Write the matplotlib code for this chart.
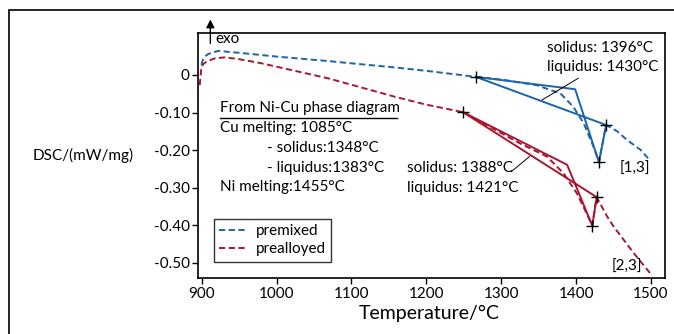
import matplotlib
matplotlib.use("Agg")
import matplotlib.pyplot as plt
from matplotlib.patches import Rectangle

plt.rcParams['font.family'] = ['Lato', 'DejaVu Sans']

# ---- data ----
premixed_x = [899.6, 901, 904, 908, 913, 922, 950, 980, 1000, 1069, 1100, 1158, 1200, 1266,
              1303, 1347, 1379, 1396, 1410, 1423, 1430.5, 1440, 1455, 1468, 1486, 1498]
premixed_y = [0.027, 0.038, 0.049, 0.055, 0.059, 0.064, 0.059, 0.053, 0.049, 0.037, 0.031, 0.020, 0.011, -0.005,
              -0.013, -0.027, -0.049, -0.084, -0.128, -0.190, -0.232, -0.133, -0.150, -0.173, -0.199, -0.226]

prealloyed_x = [897.3, 899.6, 902, 906, 917, 931, 950, 980, 1000, 1069, 1100, 1158, 1200, 1249,
                1325, 1361, 1383, 1401, 1414, 1421.6, 1427.4, 1441, 1450, 1477, 1499]
prealloyed_y = [-0.027, 0.022, 0.029, 0.035, 0.044, 0.047, 0.042, 0.031, 0.022, -0.009, -0.026, -0.058, -0.079, -0.099,
                -0.182, -0.217, -0.261, -0.315, -0.368, -0.401, -0.325, -0.375, -0.403, -0.474, -0.528]

premixed_tan_x = [1266, 1398.7, 1430.5, 1440, 1266]
premixed_tan_y = [-0.005, -0.038, -0.232, -0.133, -0.005]
premixed_marks_x = [1266, 1430.5, 1440]
premixed_marks_y = [-0.005, -0.232, -0.133]

prealloyed_tan_x = [1249, 1388, 1421.6, 1427.4, 1249]
prealloyed_tan_y = [-0.099, -0.239, -0.401, -0.325, -0.099]
prealloyed_marks_x = [1249, 1421.6, 1427.4]
prealloyed_marks_y = [-0.099, -0.401, -0.325]

x_ticks = [900, 1000, 1100, 1200, 1300, 1400, 1500]
y_ticks = [0, -0.10, -0.20, -0.30, -0.40, -0.50]
y_ticklabels = ['0', '-0.10', '-0.20', '-0.30', '-0.40', '-0.50']

series_names = ['premixed', 'prealloyed']

BLUE = '#1a64a8'
RED = '#a8172f'

fig = plt.figure(figsize=(6.74, 3.34), dpi=100)
ax = fig.add_axes([198/674, 1-278.3/334, 467/674, (278.3-32.7)/334])

dash = (0, (3.2, 1.8))
ax.plot(premixed_x, premixed_y, color=BLUE, lw=1.4, linestyle=dash, label=series_names[0])
ax.plot(prealloyed_x, prealloyed_y, color=RED, lw=1.4, linestyle=dash, label=series_names[1])
ax.plot(premixed_tan_x, premixed_tan_y, color=BLUE, lw=1.4)
ax.plot(prealloyed_tan_x, prealloyed_tan_y, color=RED, lw=1.4)
ax.plot(premixed_marks_x, premixed_marks_y, 'k+', ms=9, mew=1.0)
ax.plot(prealloyed_marks_x, prealloyed_marks_y, 'k+', ms=9, mew=1.0)

ax.set_xlim(895, 1518.7)
ax.set_ylim(-0.541, 0.1125)
ax.set_xticks(x_ticks)
ax.set_yticks(y_ticks)
ax.set_yticklabels(y_ticklabels)
ax.tick_params(direction='out', length=4, width=1, labelsize=11, pad=2)
for s in ax.spines.values():
    s.set_linewidth(1.2)

fs = 11
ax.text(1360.7, 0.0718, 'solidus: 1396°C', fontsize=fs, va='center')
ax.text(1360.7, 0.022, 'liquidus: 1430°C', fontsize=fs, va='center')
ax.plot([1402.7, 1354.5], [-0.0088, -0.0665], color='k', lw=0.7)
ax.text(1174.6, -0.2465, 'solidus: 1388°C', fontsize=fs, va='center')
ax.text(1174.6, -0.300, 'liquidus: 1421°C', fontsize=fs, va='center')
ax.plot([1313.6, 1337.7], [-0.257, -0.217], color='k', lw=0.7)

ax.text(924, -0.0886, 'From Ni-Cu phase diagram', fontsize=fs, va='center')
ax.plot([924, 1161.4], [-0.115, -0.115], color='k', lw=1.0)
ax.text(924, -0.142, 'Cu melting: 1085°C', fontsize=fs, va='center')
ax.text(987.3, -0.193, '- solidus:1348°C', fontsize=fs, va='center')
ax.text(987.3, -0.2465, '- liquidus:1383°C', fontsize=fs, va='center')
ax.text(924, -0.299, 'Ni melting:1455°C', fontsize=fs, va='center')
ax.text(1457.5, -0.25, '[1,3]', fontsize=fs, va='center')
ax.text(1448, -0.51, '[2,3]', fontsize=fs, va='center')

ax.annotate('', xy=(911.5, 0.155), xytext=(911.5, 0.077),
            arrowprops=dict(arrowstyle='-|>', color='k', lw=1.0, mutation_scale=12),
            annotation_clip=False)
ax.text(918, 0.095, 'exo', fontsize=fs, va='center')

leg = ax.legend(loc='upper left', bbox_to_anchor=(0.034, 0.2415), borderaxespad=0,
                fancybox=False, edgecolor='k', fontsize=fs, handlelength=1.9,
                handletextpad=0.5, borderpad=0.35, labelspacing=0.25)
leg.get_frame().set_linewidth(1.0)

fig.text(83.5/674, 1-155.7/334, 'DSC/(mW/mg)', fontsize=11, ha='center', va='center')
fig.text(429/674, 1-313/334, 'Temperature/°C', fontsize=14, ha='center', va='center')

fig.add_artist(Rectangle((8.5/674, -0.1), 1.0, (1-10/334)+0.1, transform=fig.transFigure,
                         fill=False, lw=1.2, edgecolor='k'))

fig.savefig('out.png', dpi=100)
